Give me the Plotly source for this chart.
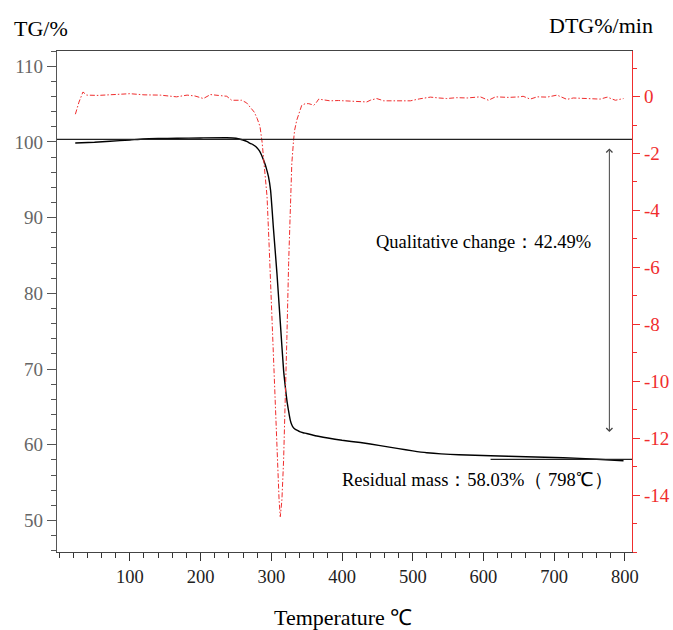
import plotly.graph_objects as go

# TG curve (Temperature °C, TG %)
tg_temp = [22.8, 50, 72, 100, 119, 140, 166.6, 200, 237, 250, 260, 266, 270, 274, 277, 280,
           283, 286, 289, 291, 293, 296, 299, 303, 308, 312.7, 317.4, 320, 322, 324, 325.5,
           327, 328.5, 330, 332, 334, 337, 340, 345, 350, 362, 380, 400, 426, 454, 480, 500,
           520, 540, 565, 610, 660, 713, 760, 798]
tg_val = [99.86, 99.95, 100.08, 100.25, 100.38, 100.44, 100.48, 100.52, 100.55, 100.48,
          100.25, 100.02, 99.8, 99.65, 99.45, 99.2, 98.85, 98.3, 97.6, 97.1, 96.5, 95.4, 93.6,
          88.6, 82.6, 76.2, 69.8, 67.5, 65.9, 64.7, 63.9, 63.2, 62.75, 62.45, 62.2, 62.05,
          61.9, 61.75, 61.6, 61.5, 61.2, 60.9, 60.6, 60.3, 59.9, 59.5, 59.2, 58.95, 58.8, 58.7,
          58.55, 58.42, 58.3, 58.1, 57.9]

# DTG curve (Temperature °C, DTG %/min)
dtg_temp = [23, 28, 33.7, 39, 55, 72, 85, 100, 120, 143, 155, 166, 181, 192, 204, 214, 225,
            237, 244, 258, 265, 270, 276, 280, 284, 287, 289, 291.5, 294, 297, 301, 304.2, 308,
            311, 312.7, 315, 317.4, 319.8, 322, 324.5, 327, 329, 331.5, 333, 336, 340, 343,
            348, 353, 357, 360, 364, 367, 375, 383, 395, 412, 425, 435, 440, 449, 459, 475,
            496.6, 510, 525, 537, 548, 562, 577, 595.5, 607, 617, 635, 652, 656, 666, 676,
            690, 699, 704, 718, 727, 746, 765, 775, 786.5, 798]
dtg_val = [-0.62, -0.2, 0.16, 0.05, 0.04, 0.05, 0.08, 0.1, 0.06, 0.05, 0.03, -0.01, 0.05,
           0.02, -0.07, 0.07, 0.04, 0.01, -0.13, -0.13, -0.22, -0.36, -0.55, -0.77, -1.05,
           -1.6, -2.24, -2.9, -3.52, -5.28, -7.85, -10.2, -12.3, -14.17, -14.76, -14.17,
           -12.77, -10.77, -8.5, -5.86, -4.1, -2.35, -1.53, -1.18, -0.83, -0.5, -0.31, -0.25,
           -0.25, -0.28, -0.31, -0.2, -0.09, -0.12, -0.15, -0.14, -0.15, -0.17, -0.19, -0.13,
           -0.07, -0.15, -0.16, -0.15, -0.08, -0.02, -0.05, -0.07, -0.04, -0.05, -0.01, -0.13,
           -0.01, -0.03, -0.01, 0.01, -0.09, -0.01, -0.02, 0.02, 0.05, -0.1, -0.05, -0.07,
           -0.09, -0.02, -0.13, -0.07]

x_ticks = [100, 200, 300, 400, 500, 600, 700, 800]
tg_ticks = [50, 60, 70, 80, 90, 100, 110]
dtg_ticks = [-14, -12, -10, -8, -6, -4, -2, 0]
dtg_tick_text = ["-14", "-12", "-10", "-8", "-6", "-4", "-2", "0"]

ref_line_tg = 100.34
residual_tg = 58.07
arrow_temp = 778
arrow_top, arrow_bottom = 99.33, 61.68

FONT = "Liberation Serif, Times New Roman, serif"
RED = "rgb(240,45,45)"

fig = go.Figure()
fig.add_trace(go.Scatter(x=tg_temp, y=tg_val, mode="lines", yaxis="y",
                         line=dict(color="black", width=1.4, shape="spline", smoothing=0.5),
                         showlegend=False))
fig.add_trace(go.Scatter(x=dtg_temp, y=dtg_val, mode="lines", yaxis="y2",
                         line=dict(color=RED, width=1, dash="5px,2px,1.5px,2px"),
                         showlegend=False))

fig.update_layout(
    width=673, height=630,
    margin=dict(l=57, r=41.3, t=51, b=78.3, autoexpand=False),
    plot_bgcolor="white", paper_bgcolor="white",
    font=dict(family=FONT, size=19, color="black"),
    xaxis=dict(range=[-3, 810], tickvals=x_ticks, ticks="outside", ticklen=8,
               tickcolor="#333", tickwidth=1, showline=True, linecolor="#444",
               linewidth=1.2, mirror=True, showgrid=False, zeroline=False,
               automargin=False,
               tickfont=dict(size=18.5, color="#222"),
               minor=dict(dtick=20, tick0=0, ticks="outside", ticklen=5,
                          tickcolor="#333", showgrid=False)),
    yaxis=dict(range=[45.85, 112], tickvals=tg_ticks, ticks="outside", ticklen=9,
               tickcolor="#555", showline=True, linecolor="#555", linewidth=1.2,
               showgrid=False, zeroline=False, automargin=False,
               tickfont=dict(size=19, color="#666"),
               minor=dict(dtick=2, tick0=0, ticks="outside", ticklen=5,
                          tickcolor="#555", showgrid=False)),
    yaxis2=dict(range=[-16, 1.6], overlaying="y", side="right", tickvals=dtg_ticks,
                ticktext=dtg_tick_text, automargin=False,
                ticks="outside", ticklen=7, tickcolor=RED, showline=True,
                linecolor=RED, linewidth=1.2, showgrid=False, zeroline=False,
                tickfont=dict(size=19, color=RED),
                minor=dict(dtick=1, tick0=0, ticks="outside", ticklen=4,
                           tickcolor=RED, showgrid=False)),
    shapes=[
        dict(type="line", xref="paper", yref="y", x0=0, x1=1, y0=ref_line_tg,
             y1=ref_line_tg, line=dict(color="#222", width=1.2)),
        dict(type="line", xref="x", yref="y", x0=610, x1=812, y0=residual_tg,
             y1=residual_tg, line=dict(color="#222", width=1.2)),
    ],
    annotations=[
        dict(xref="paper", yref="paper", x=-0.078, y=1.045, xanchor="left",
             yanchor="middle", text="TG/%", showarrow=False,
             font=dict(size=22, color="black")),
        dict(xref="paper", yref="paper", x=1.0405, y=1.051, xanchor="right",
             yanchor="middle", text="DTG%/min", showarrow=False,
             font=dict(size=22, color="black")),
        dict(xref="paper", yref="paper", x=0.4977, y=-0.13, xanchor="center",
             yanchor="middle", text="Temperature ℃", showarrow=False,
             font=dict(size=22, color="black")),
        dict(xref="x", yref="y", x=445, y=86.8, xanchor="left", yanchor="middle",
             text="Qualitative change：42.49%", showarrow=False,
             font=dict(size=18.5, color="black")),
        dict(xref="x", yref="y", x=396.6, y=55.3, xanchor="left", yanchor="middle",
             text="Residual mass：58.03%（ 798℃）", showarrow=False,
             font=dict(size=18.5, color="black")),
        dict(xref="x", yref="y", x=arrow_temp, y=arrow_bottom, axref="x", ayref="y",
             ax=arrow_temp, ay=arrow_top, text="", showarrow=True, arrowhead=4,
             startarrowhead=4, arrowside="end+start", arrowsize=1.2, arrowwidth=1,
             arrowcolor="#444", standoff=0, startstandoff=0),
    ],
)

fig.write_html(
    "out.html",
    config={"displayModeBar": False},
    post_script="document.body.style.margin='0';document.body.style.overflow='hidden';",
)
